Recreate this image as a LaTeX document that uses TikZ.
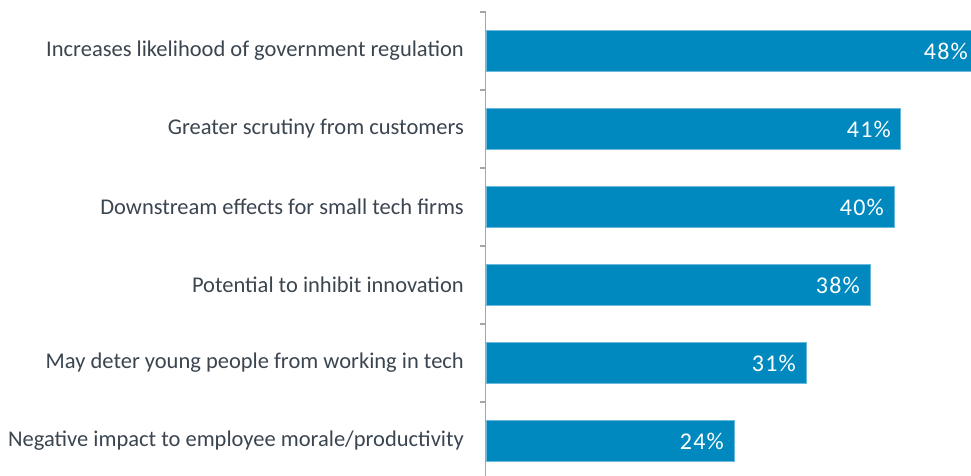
\documentclass[tikz,border=0pt]{standalone}
\usepackage{fontspec}
\setmainfont{Carlito}
\definecolor{barblue}{HTML}{0089BF}
\definecolor{baredge}{HTML}{6CB8DA}
\definecolor{labgray}{HTML}{3B4550}
\definecolor{axisgray}{HTML}{A6A6A6}
\newcommand{\myrow}[5]{%
  \path[bar] (486.5,30+78*#1) rectangle (#2,71+78*#1);
  \node[cat] (c#1) at (464,50.5+78*#1) {#3};
  \node[pct] (p#1) at (#5,51+78*#1) {#4};
}
\begin{document}
\begin{tikzpicture}[x=1pt,y=-1pt,
  bar/.style={fill=barblue,draw=baredge,line width=0.6pt},
  cat/.style={anchor=east,text=labgray,font=\fontsize{22.5}{26}\selectfont,inner sep=0pt},
  pct/.style={anchor=east,text=white,font=\fontsize{24}{28}\selectfont\addfontfeature{LetterSpace=5},inner sep=0pt},
  axis/.style={draw=axisgray,line width=1.2pt}]
\useasboundingbox (0,0) rectangle (971,476);
\coordinate (atop) at (485.5,12);
\coordinate (abot) at (485.5,476);
\draw[axis] (atop) -- (abot);
\foreach \k in {0,...,5}{
  \draw[axis] (479.5,12+78*\k) -- (485.5,12+78*\k);
}
\myrow{0}{975}{Increases likelihood of government regulation}{48\%}{968}
\myrow{1}{900}{Greater scrutiny from customers}{41\%}{891}
\myrow{2}{894}{Downstream effects for small tech firms}{40\%}{884}
\myrow{3}{870}{Potential to inhibit innovation}{38\%}{860}
\myrow{4}{806}{May deter young people from working in tech}{31\%}{796}
\myrow{5}{734}{Negative impact to employee morale/productivity}{24\%}{724}
\end{tikzpicture}
\end{document}
